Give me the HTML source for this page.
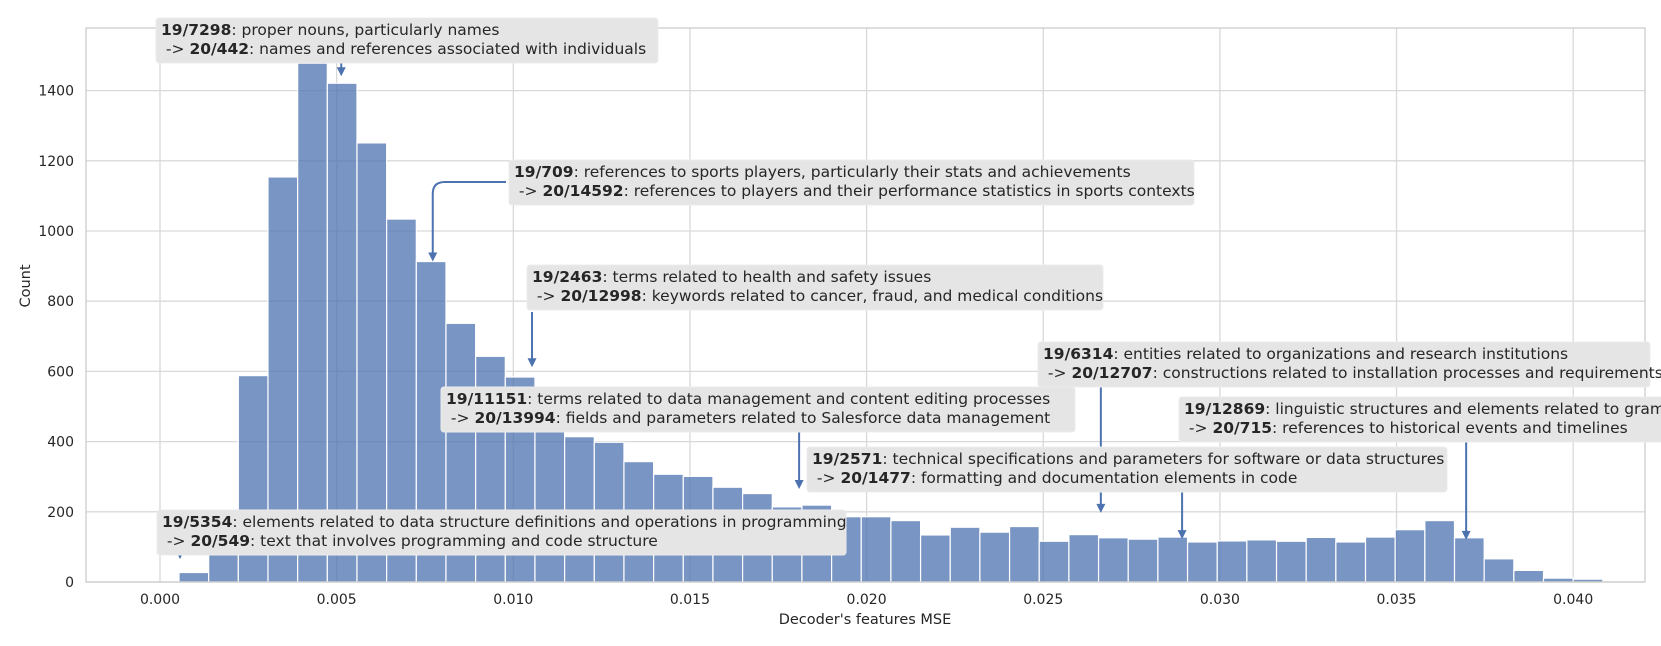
<!DOCTYPE html>
<html><head><meta charset="utf-8">
<style>
html,body{margin:0;padding:0;background:#fff;}
svg{display:block;font-family:"DejaVu Sans","Liberation Sans",sans-serif;}
</style></head>
<body>
<svg id="chart" width="1661" height="646" viewBox="0 0 1661 646" xmlns="http://www.w3.org/2000/svg">
<g id="grid"></g>
<g id="bars"></g>
<rect x="86" y="28" width="1559" height="554" fill="none" stroke="#cccccc" stroke-width="1.3"/>
<g id="yticks"></g>
<g id="xticks"></g>
<text x="865" y="624" text-anchor="middle" font-size="14.5" fill="#262626">Decoder's features MSE</text>
<text x="0" y="0" transform="translate(30,286) rotate(-90)" text-anchor="middle" font-size="14.5" fill="#262626">Count</text>
<g id="arrows"></g>
<g id="annots"></g>
</svg>
<script>
// ---- data ----
const binStart = 0.000538;
const binWidth = 0.0008396;
const counts = [27,190,588,1154,1478,1421,1251,1034,913,737,643,584,470,414,398,343,307,301,270,252,214,219,186,186,175,134,156,142,158,116,135,126,122,128,114,117,120,116,127,114,128,149,175,126,66,33,11,8];
const xTicks = [0,0.005,0.010,0.015,0.020,0.025,0.030,0.035,0.040];
const xTickLabels = ["0.000","0.005","0.010","0.015","0.020","0.025","0.030","0.035","0.040"];
const yTicks = [0,200,400,600,800,1000,1200,1400];
const annIds = ["19/7298","19/709","19/2463","19/6314","19/11151","19/12869","19/2571","19/5354"];
const annLine1 = [": proper nouns, particularly names",": references to sports players, particularly their stats and achievements",": terms related to health and safety issues",": entities related to organizations and research institutions",": terms related to data management and content editing processes",": linguistic structures and elements related to grammar",": technical specifications and parameters for software or data structures",": elements related to data structure definitions and operations in programming"];
const annIds2 = ["20/442","20/14592","20/12998","20/12707","20/13994","20/715","20/1477","20/549"];
const annLine2 = [": names and references associated with individuals",": references to players and their performance statistics in sports contexts",": keywords related to cancer, fraud, and medical conditions",": constructions related to installation processes and requirements",": fields and parameters related to Salesforce data management",": references to historical events and timelines",": formatting and documentation elements in code",": text that involves programming and code structure"];
const annX = [0.00513,0.00772,0.01053,0.02663,0.01809,0.03697,0.02893,0.000566];
const annCount = [1441,913,612,197,265,120,122,65];
// ---- layout ----
const X0=160, PXU=35330, Y0=582, PYC=0.351;
const L=86,R=1645,T=28,B=582;
const xs = v => X0 + v*PXU;
const ys = c => Y0 - c*PYC;
const boxes = [[156,18,502],[509,160,685],[527,265,576],[1038,342,612],[441,387,634],[1179,397,520],[807,447,640],[157,510,689]];
const BH = 45;
const arrowStart = [63,182,312,387,432,442,492,555];
const NS="http://www.w3.org/2000/svg";
function mk(tag, attrs, parent){const e=document.createElementNS(NS,tag);for(const k in attrs)e.setAttribute(k,attrs[k]);parent.appendChild(e);return e;}
const grid=document.getElementById('grid'), barsG=document.getElementById('bars');
yTicks.forEach((t,i)=>{
  const l=mk('line',{x1:L,x2:R,y1:ys(t),y2:ys(t),stroke:'#d9d9d9','stroke-width':1.3},grid);
  
  
  const tx=mk('text',{x:74,y:ys(t)+5,'text-anchor':'end','font-size':14,fill:'#262626'},document.getElementById('yticks'));
  tx.textContent=t;
  
  
});
xTicks.forEach((t,i)=>{
  const l=mk('line',{x1:xs(t),x2:xs(t),y1:T,y2:B,stroke:'#d9d9d9','stroke-width':1.3},grid);
  
  
  const tx=mk('text',{x:xs(t),y:604,'text-anchor':'middle','font-size':14,fill:'#262626'},document.getElementById('xticks'));
  tx.textContent=xTickLabels[i];
  
  
});
counts.forEach((c,i)=>{
  const x1=xs(binStart+i*binWidth), x2=xs(binStart+(i+1)*binWidth);
  const r=mk('rect',{x:x1,y:ys(c),width:x2-x1,height:ys(0)-ys(c),fill:'rgba(76,114,176,0.75)',stroke:'#ffffff','stroke-width':1.2},barsG);
  
  
});
const arrowsG=document.getElementById('arrows'), annG=document.getElementById('annots');
annX.forEach((v,i)=>{
  const ax=xs(v), tip=ys(annCount[i]);
  let d;
  if(i===1){
    const sx=boxes[i][0]-3, sy=arrowStart[i];
    d=`M${sx},${sy} H${ax+12} Q${ax},${sy} ${ax},${sy+12} V${tip-8}`;
  } else {
    d=`M${ax},${arrowStart[i]} V${tip-8}`;
  }
  const p=mk('path',{d:d,fill:'none',stroke:'#4c72b0','stroke-width':2},arrowsG);
  
  
  const h=mk('path',{d:`M${ax-4.5},${tip-9} L${ax+4.5},${tip-9} L${ax},${tip} Z`,fill:'#4c72b0'},arrowsG);
  
  
});
annX.forEach((v,i)=>{
  const [bx,by,bw]=boxes[i];
  const g=mk('g',{},annG);
  
  
  mk('rect',{x:bx,y:by,width:bw,height:BH,rx:3,fill:'#e5e5e5',stroke:'#ececec'},g);
  const t1=mk('text',{x:bx+5,y:by+17,'font-size':15.5,fill:'#262626'},g);
  const b1=mk('tspan',{'font-weight':'bold'},t1); b1.textContent=annIds[i];
  const r1=mk('tspan',{},t1); r1.textContent=annLine1[i];
  const t2=mk('text',{x:bx+5,y:by+36,'font-size':15.5,fill:'#262626'},g);
  const a2=mk('tspan',{},t2); a2.textContent='\u00a0-> ';
  const b2=mk('tspan',{'font-weight':'bold'},t2); b2.textContent=annIds2[i];
  const r2=mk('tspan',{},t2); r2.textContent=annLine2[i];
});
</script>
</body></html>
